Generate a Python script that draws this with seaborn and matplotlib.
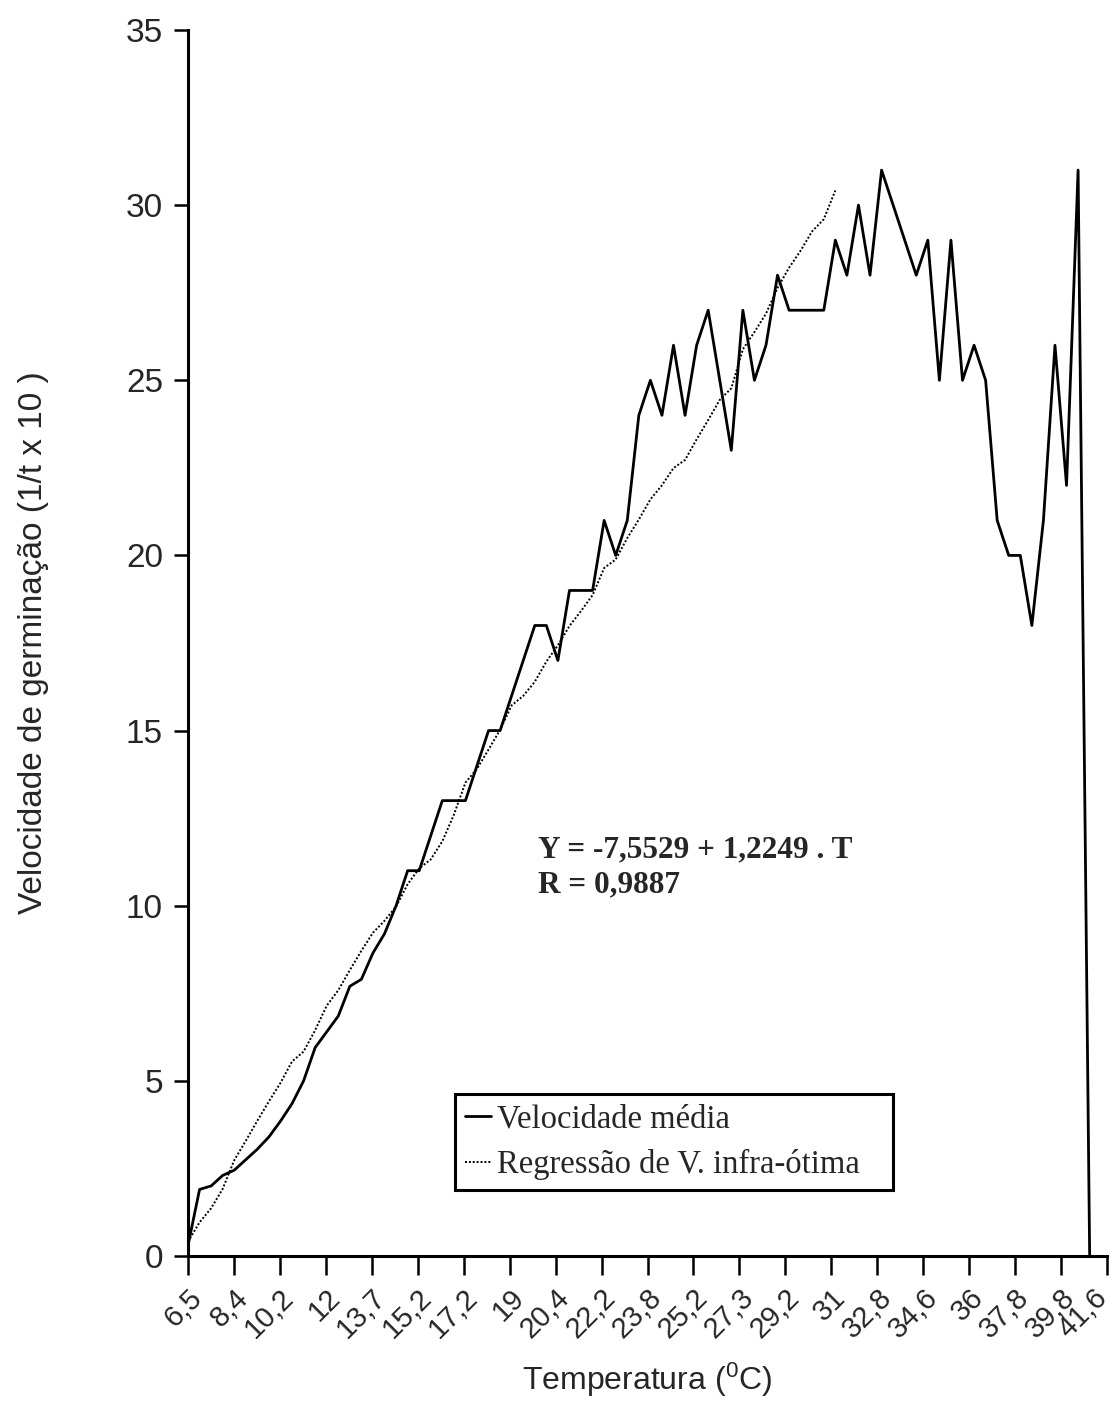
import numpy as np
import pandas as pd
import matplotlib
matplotlib.use("Agg")
import matplotlib.pyplot as plt
import matplotlib.transforms as mtransforms
import seaborn as sns

# ---------------- data ----------------
tick_labels = ["6,5", "8,4", "10,2", "12", "13,7", "15,2", "17,2", "19", "20,4",
               "22,2", "23,8", "25,2", "27,3", "29,2", "31", "32,8", "34,6",
               "36", "37,8", "39,8", "41,6"]

# mean germination speed, one value per temperature class
velocidade = [0.3, 1.9, 2.0, 2.3, 2.45, 2.75, 3.05, 3.4, 3.85, 4.35,
              5.0, 5.95, 6.4, 6.85, 7.7, 7.9, 8.65, 9.2, 10.0, 11.0,
              11.0, 12.0, 13.0, 13.0, 13.0, 14.0, 15.0, 15.0, 16.0, 17.0,
              18.0, 18.0, 17.0, 19.0, 19.0, 19.0, 21.0, 20.0, 21.0, 24.0,
              25.0, 24.0, 26.0, 24.0, 26.0, 27.0, 25.0, 23.0, 27.0, 25.0,
              26.0, 28.0, 27.0, 27.0, 27.0, 27.0, 29.0, 28.0, 30.0, 28.0,
              31.0, 30.0, 29.0, 28.0, 29.0, 25.0, 29.0, 25.0, 26.0, 25.0,
              21.0, 20.0, 20.0, 18.0, 21.0, 26.0, 22.0, 31.0, 0.0]

# temperatures of the infra-optimal range (6.5 .. 31 C)
temp_infra = [6.5, 6.95, 7.28, 7.73, 8.4, 8.85, 9.32, 9.77, 10.2, 10.7,
              10.93, 11.43, 12.0, 12.36, 12.83, 13.28, 13.7, 13.98, 14.31, 14.83,
              15.2, 15.41, 15.83, 16.45, 17.2, 17.52, 17.97, 18.43, 19.0, 19.22,
              19.55, 20.02, 20.4, 20.85, 21.2, 21.57, 22.2, 22.4, 22.9, 23.33,
              23.8, 24.13, 24.53, 24.72, 25.2, 25.65, 26.12, 26.39, 27.3, 27.7,
              28.13, 28.73, 29.2, 29.6, 30.05, 30.33, 31.0]

coef_a = -7.5529
coef_b = 1.2249
r_value = "0,9887"

# ---------------- frames ----------------
df_v = pd.DataFrame({"pos": np.arange(len(velocidade)), "v": velocidade})
df_r = pd.DataFrame({"pos": np.arange(len(temp_infra)),
                     "r": coef_a + coef_b * np.array(temp_infra)})

# ---------------- style ----------------
sns.set_theme(style="white")
plt.rcParams["font.family"] = ["Liberation Sans", "DejaVu Sans"]
plt.rcParams["mathtext.default"] = "regular"

fig = plt.figure(figsize=(11.16, 14.22), dpi=100)
ax = fig.add_axes([188 / 1116, 1 - 1256 / 1422, (1107 - 188) / 1116, (1256 - 30) / 1422])

sns.lineplot(data=df_v, x="pos", y="v", ax=ax, color="black", linewidth=2.0,
             estimator=None, sort=False, label="Velocidade média")
sns.lineplot(data=df_r, x="pos", y="r", ax=ax, color="black", linewidth=1.4,
             linestyle=(0, (1, 1)), estimator=None, sort=False,
             label="Regressão de V. infra-ótima")

x_end = len(velocidade) + 0.5
ax.set_xlim(0, x_end)
ax.set_ylim(0, 35)
ax.set_xticks(np.linspace(0, x_end, len(tick_labels)))
ax.set_xticklabels(tick_labels, rotation=45, ha="right", rotation_mode="anchor",
                   fontsize=21)
ax.set_yticks(np.arange(0, 36, 5))
ax.set_yticklabels([str(v) for v in range(0, 36, 5)], fontsize=24)

for s in ["top", "right"]:
    ax.spines[s].set_visible(False)
for s in ["left", "bottom"]:
    ax.spines[s].set_color("black")
    ax.spines[s].set_linewidth(2.2)

ax.tick_params(axis="y", direction="out", length=10, width=1.8, color="black",
               left=True, pad=8)
ax.tick_params(axis="x", direction="out", length=14, width=1.8, color="black",
               bottom=True, pad=6)

# nudge the last (rightmost) tick label inward so it stays inside the figure
last_tick = ax.xaxis.get_major_ticks()[-1]
last_tick.label1.set_transform(
    last_tick.label1.get_transform()
    + mtransforms.ScaledTranslation(-14 / 100, 0, fig.dpi_scale_trans))

ax.set_xlabel(r"Temperatura ($\mathregular{^0}$C)", fontsize=23, labelpad=12)
ax.set_ylabel("Velocidade de germinação (1/t x 10 )", fontsize=24, labelpad=55)

ax.text(30.3, 11.6, "Y = -7,5529 + 1,2249 . T", fontsize=22.5, fontweight="bold",
        family="Liberation Serif", va="center", ha="left")
ax.text(30.3, 10.6, "R = " + r_value, fontsize=22.5, fontweight="bold",
        family="Liberation Serif", va="center", ha="left")

leg = ax.legend(loc="lower left", bbox_to_anchor=(0.2905, 0.054, 0.477, 0.079),
                mode="expand", prop={"family": "Liberation Serif", "size": 23.5},
                frameon=True, fancybox=False, framealpha=1, edgecolor="black",
                handlelength=0.8, handletextpad=0.2, borderpad=0.3,
                labelspacing=0.45, borderaxespad=0)
leg.get_frame().set_linewidth(2.2)

fig.savefig("out.png", dpi=100, facecolor="white")
